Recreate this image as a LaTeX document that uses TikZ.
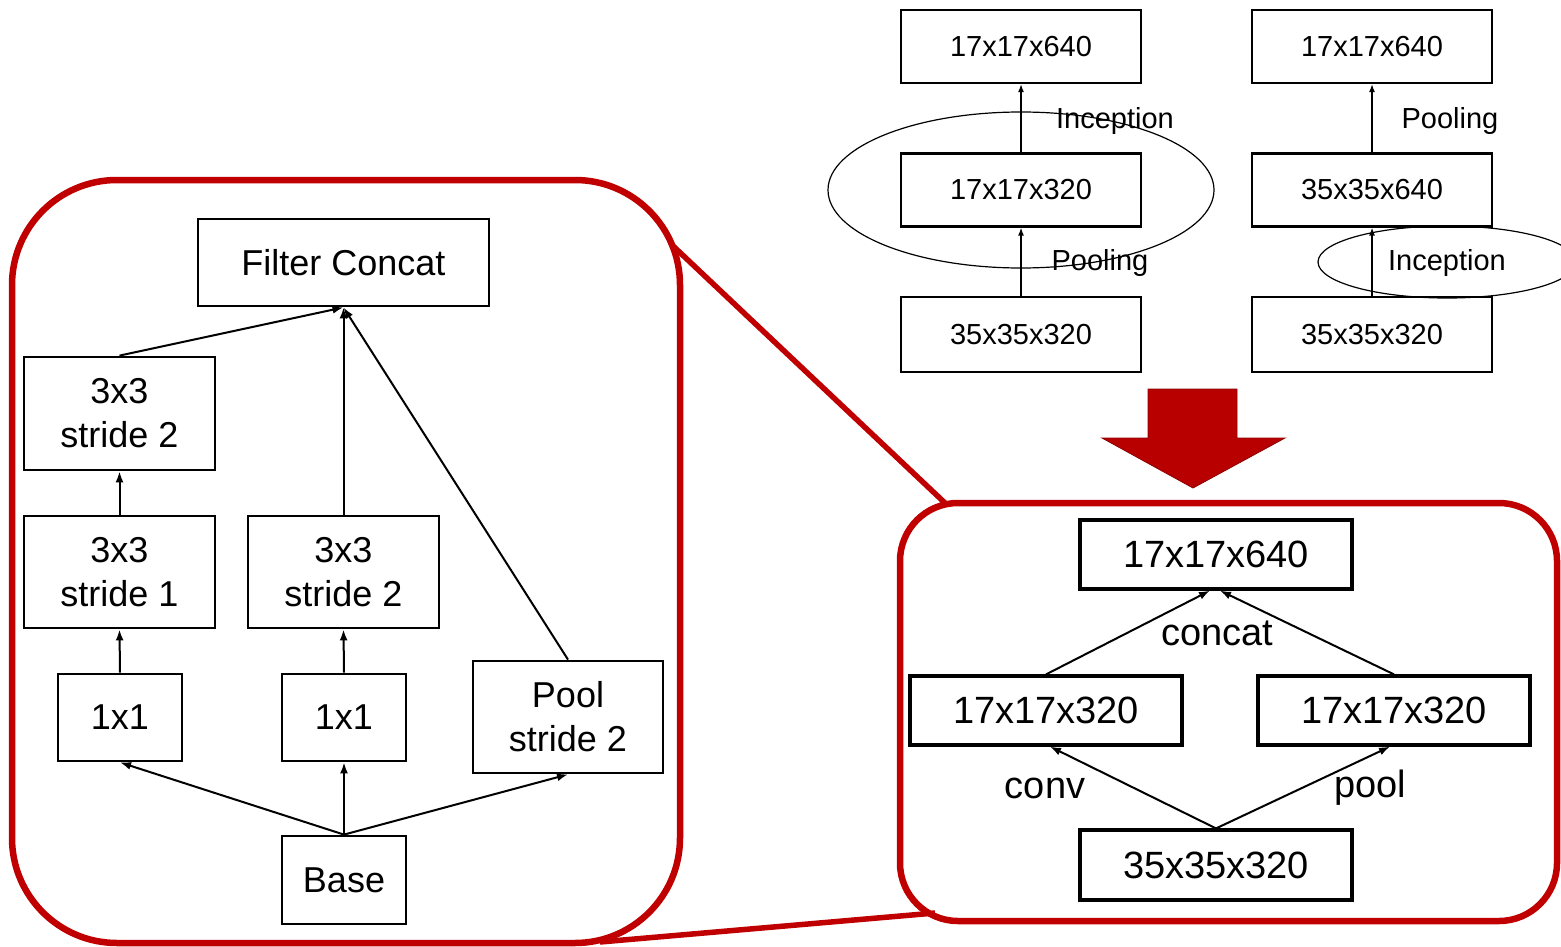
\documentclass[tikz,border=0pt]{standalone}
\usepackage{fontspec}
\setmainfont{Liberation Sans}
\usetikzlibrary{arrows.meta}
\definecolor{framered}{HTML}{C00000}
\definecolor{arrowred}{HTML}{B80000}
\definecolor{arrowedge}{HTML}{8C0000}
\tikzset{
  topbox/.style={draw, line width=2.2pt, minimum width=240pt, minimum height=73pt,
    inner sep=0pt, font=\fontsize{29}{34}\selectfont},
  lbox/.style={draw, line width=2.8pt, inner sep=0pt, align=center,
    font=\fontsize{36}{44}\selectfont},
  rbox/.style={draw, line width=3.2pt, minimum width=272pt, minimum height=69pt,
    inner sep=0pt, font=\fontsize{38}{44}\selectfont},
  toplabel/.style={inner sep=0pt, font=\fontsize{29}{34}\selectfont},
  rlabel/.style={inner sep=0pt, font=\fontsize{38}{44}\selectfont},
  thinarr/.style={-{Latex[length=8pt,width=6pt]}, line width=1.4pt},
  arr/.style={-{Latex[length=11pt,width=8pt]}, line width=2pt},
  frame/.style={draw=framered, line width=6.5pt},
  link/.style={draw=framered, line width=5.5pt},
  loop/.style={draw, line width=1.2pt}
}
\begin{document}
\begin{tikzpicture}[x=1pt, y=-1pt]
\useasboundingbox (0,0) rectangle (1561,947);

% ---------- original factorised reductions (top) ----------
\node[topbox] (t1) at (1021,46.5) {17x17x640};
\node[topbox] (t2) at (1021,190) {17x17x320};
\node[topbox, minimum height=75pt] (t3) at (1021,334.5) {35x35x320};
\draw[thinarr] (t3.north) -- (t2.south);
\draw[thinarr] (t2.north) -- (t1.south);
\draw[loop] (1021,190) ellipse [x radius=193, y radius=78];
\node[toplabel] (lt1) at (1115,121) {Inception};
\node[toplabel] (lt2) at (1100,263) {Pooling};

\node[topbox] (u1) at (1372,46.5) {17x17x640};
\node[topbox] (u2) at (1372,190) {35x35x640};
\node[topbox, minimum height=75pt] (u3) at (1372,334.5) {35x35x320};
\draw[thinarr] (u3.north) -- (u2.south);
\draw[thinarr] (u2.north) -- (u1.south);
\draw[loop] (1447,262) ellipse [x radius=129, y radius=36];
\node[toplabel] (lu1) at (1450,121) {Pooling};
\node[toplabel] (lu2) at (1447,263) {Inception};

% ---------- big arrow ----------
\filldraw[fill=arrowred, draw=arrowedge, line width=0.8pt]
  (1148,389) -- (1237,389) -- (1237,438) -- (1285,438) -- (1193,488)
  -- (1102,438) -- (1148,438) -- cycle;

% ---------- zoom links ----------
\coordinate (lz1) at (672,245);
\coordinate (rz1) at (945,503);
\coordinate (lz2) at (600,942);
\coordinate (rz2) at (935,913);
\draw[link] (lz1) -- (rz1);
\draw[link] (lz2) -- (rz2);

% ---------- left frame: inception grid-size reduction ----------
\draw[frame, rounded corners=105pt] (12,180) rectangle (680,943);

\node[lbox, minimum width=291pt, minimum height=87pt] (fc) at (343.5,262.5) {Filter Concat};
\node[lbox, minimum width=191pt, minimum height=113pt] (a3) at (119.5,413.5) {3x3\\stride 2};
\node[lbox, minimum width=191pt, minimum height=112pt] (a2) at (119.5,572) {3x3\\stride 1};
\node[lbox, minimum width=191pt, minimum height=112pt] (b2) at (343.5,572) {3x3\\stride 2};
\node[lbox, minimum width=124pt, minimum height=87pt] (a1) at (120,717.5) {1x1};
\node[lbox, minimum width=124pt, minimum height=87pt] (b1) at (344,717.5) {1x1};
\node[lbox, minimum width=190pt, minimum height=112pt] (pl) at (568,717) {Pool\\stride 2};
\node[lbox, minimum width=124pt, minimum height=88pt] (bs) at (344,880) {Base};

\draw[arr] (bs.north) -- (a1.south);
\draw[arr] (bs.north) -- (b1.south);
\draw[arr] (bs.north) -- (pl.south);
\draw[arr] (a1.north) -- (a2.south);
\draw[arr] (a2.north) -- (a3.south);
\draw[arr] (b1.north) -- (b2.south);
\draw[arr] (a3.north) -- (fc.south);
\draw[arr] (b2.north) -- (fc.south);
\draw[arr] (pl.north) -- (fc.south);

% ---------- right frame: parallel reduction ----------
\draw[frame, rounded corners=58pt] (900,503) rectangle (1557,921);

\node[rbox] (r4) at (1216,554.5) {17x17x640};
\node[rbox] (rl) at (1046,710.5) {17x17x320};
\node[rbox] (rr) at (1394,710.5) {17x17x320};
\node[rbox, minimum height=70pt] (rb) at (1216,865) {35x35x320};

\draw[arr] (rb.north) -- ([xshift=4pt]rl.south);
\draw[arr] (rb.north) -- ([xshift=-4pt]rr.south);
\draw[arr] (rl.north) -- ([xshift=-6pt]r4.south);
\draw[arr] (rr.north) -- ([xshift=4pt]r4.south);
\node[rlabel] (lc) at (1217,633) {concat};
\node[rlabel] (lv) at (1045,788) {conv};
\node[rlabel] (lp) at (1370,788) {pool};
\end{tikzpicture}
\end{document}
